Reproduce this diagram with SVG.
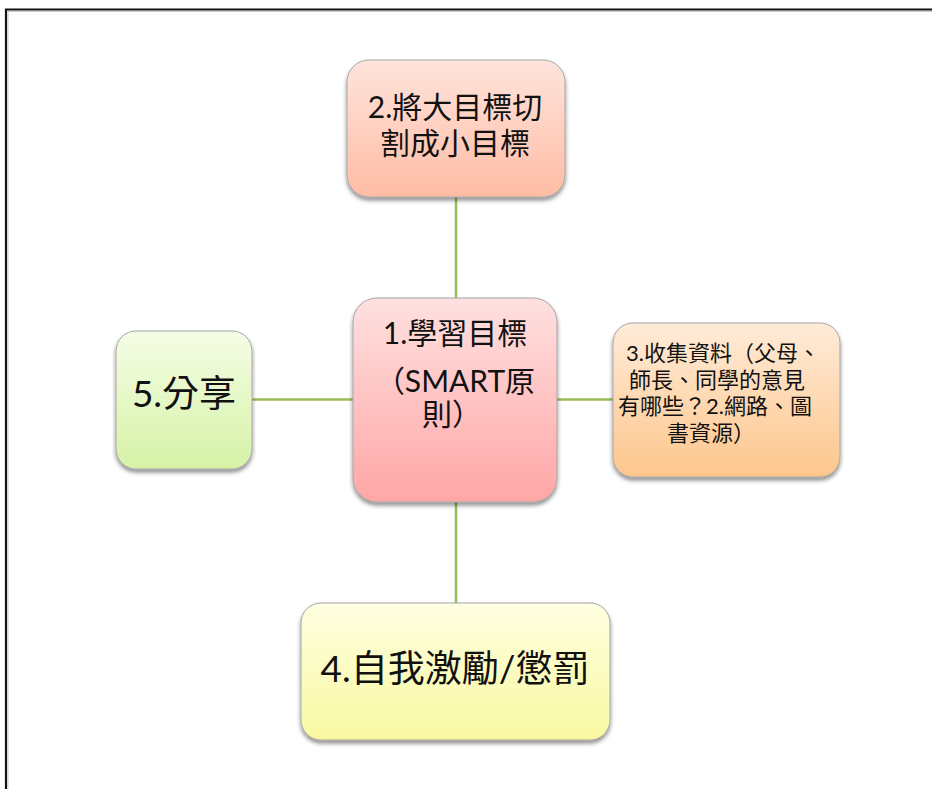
<svg xmlns="http://www.w3.org/2000/svg" width="932" height="789" viewBox="0 0 932 789">
<style>
  .box { stroke: #a6a6a6; stroke-width: 1; filter: url(#sh); }
  .t { font-family: Lato, "Noto Sans CJK TC", sans-serif; fill: #111; text-anchor: middle; }
  .conn { stroke: #9bbb59; stroke-width: 2.5; fill: none; }
</style>
<defs>
  <filter id="sh" x="-10%" y="-10%" width="120%" height="125%">
    <feGaussianBlur in="SourceAlpha" stdDeviation="2"/>
    <feOffset dx="0" dy="3" result="b"/>
    <feComponentTransfer><feFuncA type="linear" slope="0.45"/></feComponentTransfer>
    <feMerge><feMergeNode/><feMergeNode in="SourceGraphic"/></feMerge>
  </filter>
  <linearGradient id="gTop" x1="0" y1="0" x2="0" y2="1"><stop offset="0" stop-color="#ffe4dc"/><stop offset="1" stop-color="#ffbca4"/></linearGradient>
  <linearGradient id="gCenter" x1="0" y1="0" x2="0" y2="1"><stop offset="0" stop-color="#ffe0e0"/><stop offset="1" stop-color="#ffa6a6"/></linearGradient>
  <linearGradient id="gRight" x1="0" y1="0" x2="0" y2="1"><stop offset="0" stop-color="#ffebd8"/><stop offset="1" stop-color="#fdc68c"/></linearGradient>
  <linearGradient id="gLeft" x1="0" y1="0" x2="0" y2="1"><stop offset="0" stop-color="#f5fde6"/><stop offset="1" stop-color="#d6f2a6"/></linearGradient>
  <linearGradient id="gBottom" x1="0" y1="0" x2="0" y2="1"><stop offset="0" stop-color="#ffffe2"/><stop offset="1" stop-color="#f8f8a0"/></linearGradient>
</defs>
<rect width="932" height="789" fill="#fff"/>
<path d="M6,789 V9.5 H932" fill="none" stroke="#111" stroke-width="2.2"/>
<path d="M8,789 V11.5 H932" fill="none" stroke="#bbb" stroke-width="0.8"/>
<g id="connectors">
  <line class="conn" x1="456" y1="197" x2="456" y2="298"/>
  <line class="conn" x1="456" y1="502" x2="456" y2="603"/>
  <line class="conn" x1="252" y1="399.5" x2="353" y2="399.5"/>
  <line class="conn" x1="557" y1="399.5" x2="613" y2="399.5"/>
</g>
<g id="node-top">
  <rect class="box" x="347" y="60" width="218" height="137" rx="22" fill="url(#gTop)"/>
  <text class="t" font-size="30" x="455" y="118">2.將大目標切</text>
  <text class="t" font-size="30" x="455" y="154">割成小目標</text>
</g>
<g id="node-center">
  <rect class="box" x="353" y="298" width="204" height="204" rx="24" fill="url(#gCenter)"/>
  <text class="t" font-size="30" x="455" y="344">1.學習目標</text>
  <text class="t" font-size="30" x="455" y="392">（SMART原</text>
  <text class="t" font-size="30" x="452" y="425">則）</text>
</g>
<g id="node-right">
  <rect class="box" x="613" y="323" width="227" height="154" rx="20" fill="url(#gRight)"/>
  <text class="t" font-size="22" x="723" y="361">3.收集資料（父母、</text>
  <text class="t" font-size="22" x="717" y="388">師長、同學的意見</text>
  <text class="t" font-size="22" x="715" y="414">有哪些？2.網路、圖</text>
  <text class="t" font-size="22" x="711" y="441">書資源）</text>
</g>
<g id="node-left">
  <rect class="box" x="116" y="331" width="136" height="138" rx="20" fill="url(#gLeft)"/>
  <text class="t" font-size="37" x="184" y="407">5.分享</text>
</g>
<g id="node-bottom">
  <rect class="box" x="301" y="603" width="309" height="137" rx="20" fill="url(#gBottom)"/>
  <text class="t" font-size="37" x="455" y="682">4.自我激勵/懲罰</text>
</g>
</svg>
